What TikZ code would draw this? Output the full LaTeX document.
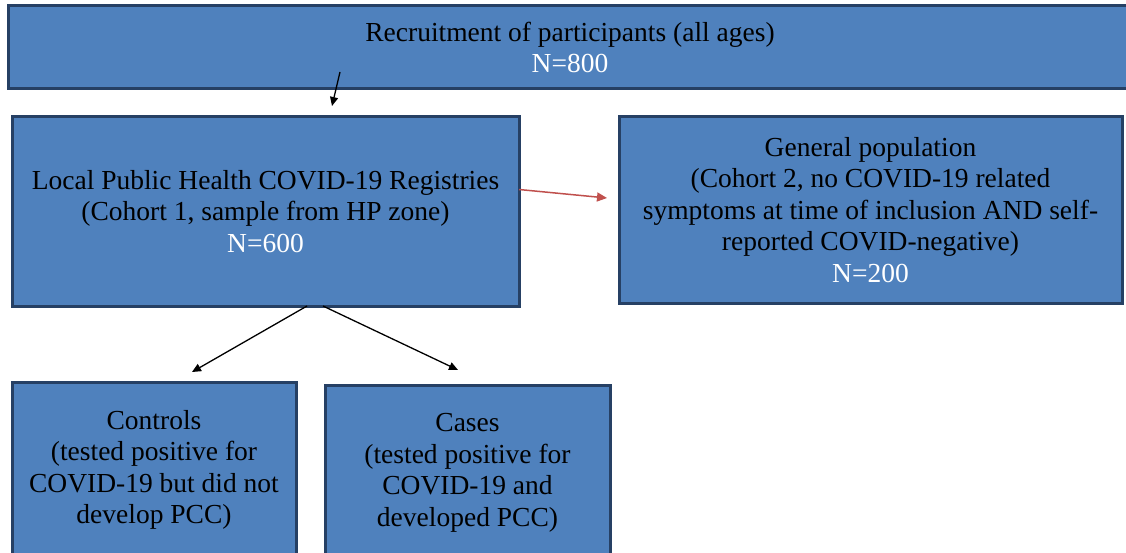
\documentclass[tikz,border=0pt]{standalone}
\usepackage{fontspec}
\setmainfont{Liberation Serif}
\usetikzlibrary{arrows.meta}
\definecolor{boxfill}{RGB}{79,129,189}
\definecolor{boxline}{RGB}{38,64,100}
\definecolor{redarrow}{RGB}{192,80,77}
\begin{document}
\begin{tikzpicture}[x=1pt,y=-1pt,
  box/.style={draw=boxline, line width=3pt, fill=boxfill, inner sep=0pt, outer sep=0pt,
    align=center, font=\fontsize{27.5}{31.5}\selectfont},
  conn/.style={line width=1.3pt, -{Triangle[length=9pt,width=8pt]}},
  redconn/.style={draw=redarrow, line width=1.5pt, -{Triangle[length=10pt,width=9pt]}, redarrow}]
\useasboundingbox[fill=white] (0,0) rectangle (1126,553);
\node[box, minimum width=1124pt, minimum height=83pt] (top) at (570,47.5)
  {Recruitment of participants (all ages)\\ \textcolor{white}{N=800}};
\node[box, minimum width=507pt, minimum height=189pt] (local) at (265.5,211.5)
  {Local Public Health COVID-19 Registries\\ (Cohort 1, sample from HP zone)\\ \textcolor{white}{N=600}};
\node[box, minimum width=503pt, minimum height=186pt] (general) at (870.5,210)
  {General population\\ (Cohort 2, no COVID-19 related\\ symptoms at time of inclusion AND self-\\ reported COVID-negative)\\ \textcolor{white}{N=200}};
\node[box, minimum width=284pt, minimum height=176pt] (controls) at (154,470)
  {Controls\\ (tested positive for\\ COVID-19 but did not\\ develop PCC)};
\node[box, minimum width=285pt, minimum height=176pt] (cases) at (467.5,473)
  {Cases\\ (tested positive for\\ COVID-19 and\\ developed PCC)};
\draw[conn] ([xshift=332pt,yshift=17pt]top.south west) -- ([xshift=320pt,yshift=11pt]local.north west);
\draw[redconn] ([yshift=22pt]local.east) -- ([xshift=-12pt,yshift=12pt]general.west);
\draw[conn] ([xshift=41.5pt]local.south) -- ([xshift=38pt,yshift=10pt]controls.north);
\draw[conn] ([xshift=57.5pt]local.south) -- ([xshift=-9.5pt,yshift=15pt]cases.north);
\end{tikzpicture}
\end{document}
